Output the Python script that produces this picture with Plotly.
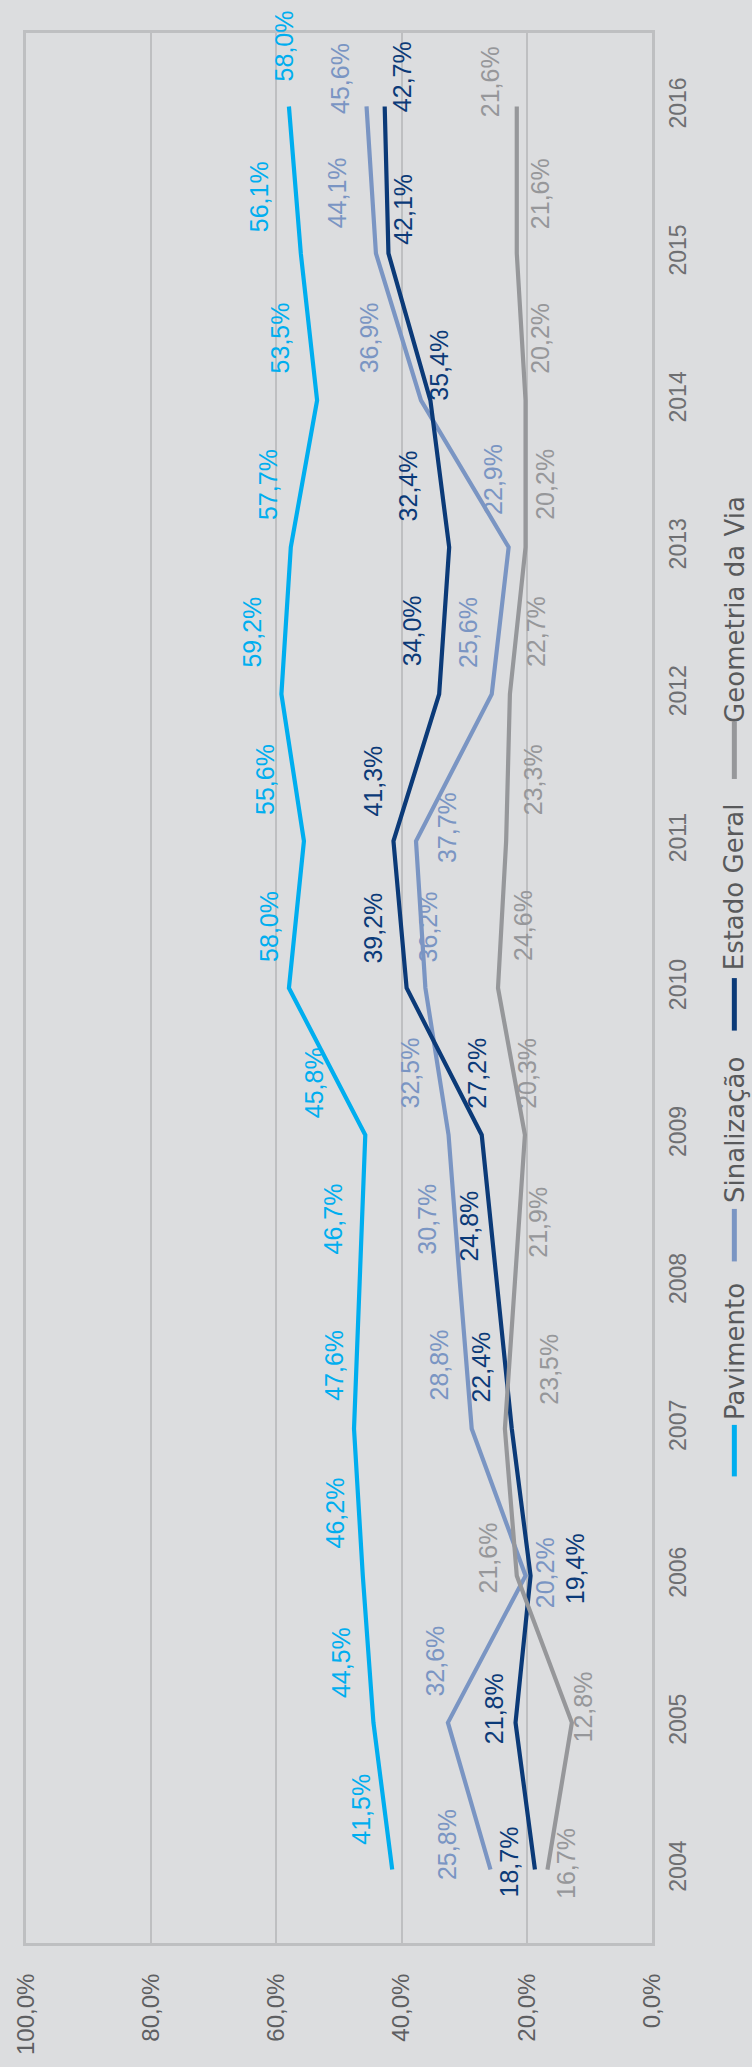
import plotly.graph_objects as go

# ---- data ---------------------------------------------------------------
years = [2004, 2005, 2006, 2007, 2008, 2009, 2010, 2011, 2012, 2013, 2014, 2015, 2016]

pavimento = [41.5, 44.5, 46.2, 47.6, 46.7, 45.8, 58.0, 55.6, 59.2, 57.7, 53.5, 56.1, 58.0]
sinalizacao = [25.8, 32.6, 20.2, 28.8, 30.7, 32.5, 36.2, 37.7, 25.6, 22.9, 36.9, 44.1, 45.6]
estado_geral = [18.7, 21.8, 19.4, 22.4, 24.8, 27.2, 39.2, 41.3, 34.0, 32.4, 35.4, 42.1, 42.7]
geometria = [16.7, 12.8, 21.6, 23.5, 21.9, 20.3, 24.6, 23.3, 22.7, 20.2, 20.2, 21.6, 21.6]

series_names = ["Pavimento", "Sinalização", "Estado Geral", "Geometria da Via"]
value_ticks = [0, 20, 40, 60, 80, 100]
value_tick_labels = ["0,0%", "20,0%", "40,0%", "60,0%", "80,0%", "100,0%"]

# ---- styling ------------------------------------------------------------
W, H = 752, 2067
M_L, M_R, M_T, M_B = 21, 100, 33, 106
BG = "#DCDDDF"
GRID = "#BEBFC1"
TICK_COLOR = "#5E5F62"
colors = ["#00AEEF", "#7A95C3", "#0B3A78", "#96979A"]

# pixel offsets (dx, dy) of every value label relative to its point
label_offsets = [
    [(-28, -60), (-29, -60), (-24, -63), (-16, -63), (-23, -63), (-47, -52), (-16, -62),
     (-35, -62), (-25, -62), (-19, -63), (-33, -62), (-37, -57), (0, -61)],
    [(-40, -25), (-9, -62), (23, -3), (-29, -64), (-29, -63), (-35, -62), (7, -61),
     (35, -13), (-20, -62), (-11, -68), (-48, -62), (-35, -61), (-22, -28)],
    [(-22, -8), (-18, -14), (48, -7), (-27, -62), (-24, -56), (-1, -62), (-30, -60),
     (-16, -60), (-23, -63), (-37, -61), (13, -35), (19, -44), (22, -30)],
    [(22, -6), (15, -16), (-25, -18), (48, -60), (27, -60), (6, -62), (29, -62),
     (31, -61), (30, -63), (24, -63), (19, -62), (28, -60), (-22, -25)],
]

# legend: (marker top px, marker bottom px, text centre px) along the page height
legend_pos = [
    (1438, 1490, 1364),
    (1220, 1273, 1140),
    (987, 1040, 895),
    (728, 786, 615),
]
LEGEND_X = 735


def paper_x(px):
    return (px - M_L) / (W - M_L - M_R)


def paper_y(py):
    return 1 - (py - M_T) / (H - M_T - M_B)


all_series = [pavimento, sinalizacao, estado_geral, geometria]

fig = go.Figure()
for name, vals, col in zip(series_names, all_series, colors):
    fig.add_trace(go.Scatter(
        x=vals, y=years, mode="lines", name=name,
        line=dict(color=col, width=4.2),
        showlegend=False, hoverinfo="skip",
    ))

annotations = []
for vals, col, offs in zip(all_series, colors, label_offsets):
    for yr, v, (dx, dy) in zip(years, vals, offs):
        annotations.append(dict(
            x=v, y=yr, xref="x", yref="y",
            text=f"{v:.1f}%".replace(".", ","),
            showarrow=False, textangle=-90,
            xshift=dx - 4, yshift=-dy,
            font=dict(family="Liberation Sans", size=25, color=col),
        ))

shapes = []
for name, col, (top, bot, tc) in zip(series_names, colors, legend_pos):
    shapes.append(dict(
        type="line", xref="paper", yref="paper",
        x0=paper_x(LEGEND_X), x1=paper_x(LEGEND_X),
        y0=paper_y(top), y1=paper_y(bot),
        line=dict(color=col, width=5),
    ))
    annotations.append(dict(
        x=paper_x(LEGEND_X), y=paper_y(tc), xref="paper", yref="paper",
        xanchor="center", yanchor="middle",
        text=name, showarrow=False, textangle=-90,
        font=dict(family="DejaVu Sans", size=26, color="#58595B"),
    ))

fig.update_layout(
    width=W, height=H,
    margin=dict(l=M_L, r=M_R, t=M_T, b=M_B, pad=0),
    paper_bgcolor=BG, plot_bgcolor=BG,
    font=dict(family="Liberation Sans", color=TICK_COLOR),
    annotations=annotations, shapes=shapes,
    showlegend=False,
)

fig.update_xaxes(
    range=[100, 0], tickvals=value_ticks, ticktext=value_tick_labels,
    tickangle=-90, showgrid=True, gridcolor=GRID, gridwidth=2,
    showline=True, mirror=True, linecolor=GRID, linewidth=3,
    zeroline=False, ticks="", ticklabelstandoff=18,
    tickfont=dict(family="Liberation Sans", size=24, color=TICK_COLOR),
)
fig.update_yaxes(
    range=[2003.5, 2016.5], tickvals=years, ticktext=[str(y) for y in years],
    side="right", tickangle=-90, showgrid=False,
    showline=True, mirror=True, linecolor=GRID, linewidth=3,
    zeroline=False, ticks="", ticklabelstandoff=3,
    tickfont=dict(family="Liberation Sans", size=23, color="#6E6F72"),
)

fig.write_html("out.html")
